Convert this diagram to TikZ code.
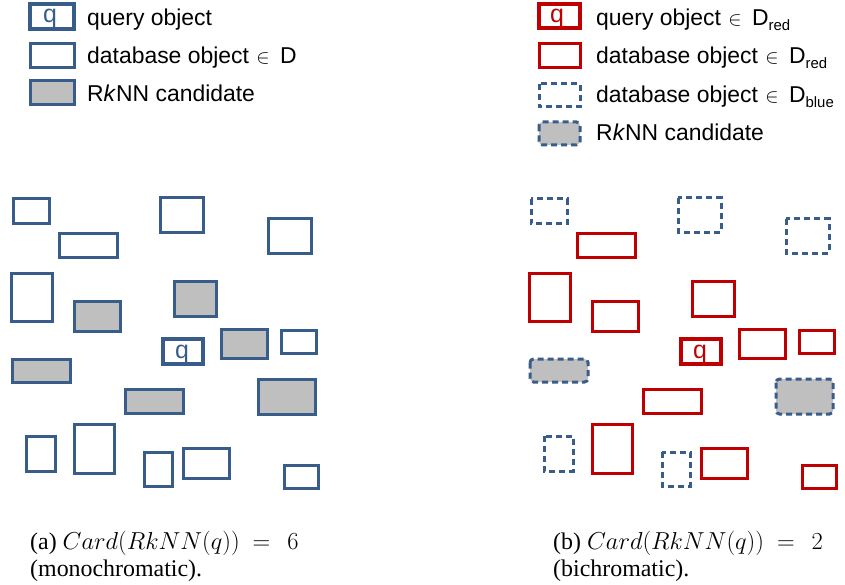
\RequirePackage{fix-cm}
\documentclass[tikz,border=0pt]{standalone}
\usepackage{fontspec}
\setmainfont{Liberation Sans}
\newfontfamily\capfont{Liberation Serif}
\definecolor{myblue}{RGB}{56,93,138}
\definecolor{myred}{RGB}{192,0,0}
\definecolor{mygray}{RGB}{191,191,191}
\tikzset{
  obj/.style={draw=myblue, line width=3bp},
  qobj/.style={draw=myblue, line width=4.5bp},
  cand/.style={obj, fill=mygray},
  robj/.style={draw=myred, line width=3bp},
  rqobj/.style={draw=myred, line width=4.5bp},
  bobj/.style={draw=myblue, line width=3bp, dash pattern=on 6bp off 4bp},
  bcand/.style={bobj, fill=mygray, rounded corners=3.5bp},
  lbl/.style={anchor=base west, inner sep=0pt, font=\fontsize{23}{26}\selectfont},
  qlbl/.style={anchor=base, inner sep=0pt, font=\fontsize{25}{26}\selectfont},
  captxt/.style={anchor=base west, inner sep=0pt, font=\capfont\fontsize{24}{28}\selectfont}
}
\newcommand{\elem}{\hspace{1bp}{\fontsize{20}{20}\selectfont$\in$}\hspace{4bp}}
\newcommand{\subsc}[1]{\raisebox{-5bp}{\fontsize{15}{15}\selectfont #1}}
\newcommand{\capmath}[1]{{\fontsize{24.6}{28}\selectfont$Card(RkNN(q))\ =\ \,#1$}}
\begin{document}
\begin{tikzpicture}[x=1bp,y=-1bp]
\useasboundingbox (0,0) rectangle (845,585);
% ---------- legend left
\draw[qobj] (30,4) rectangle (74,29);
\node[qlbl, text=myblue] (lq) at (50,23) {q};
\node[lbl] (lt1) at (87,26) {query object};
\draw[obj] (30,44) rectangle (74,68);
\node[lbl] (lt2) at (87,64) {database object \elem{} D};
\draw[cand] (30,81) rectangle (74,105);
\node[lbl] (lt3) at (87,102) {R\textit{k}NN candidate};
% ---------- legend right
\draw[rqobj] (539,4) rectangle (580,28);
\node[qlbl, text=myred] (rq) at (557,23) {q};
\node[lbl] (rt1) at (596,26) {query object \elem{} D\subsc{red}};
\draw[robj] (539,44) rectangle (580,68);
\node[lbl] (rt2) at (596,64) {database object \elem{} D\subsc{red}};
\draw[bobj] (539,84) rectangle (580,107);
\node[lbl] (rt3) at (596,103) {database object \elem{} D\subsc{blue}};
\draw[bcand] (539,122) rectangle (580,145);
\node[lbl] (rt4) at (596,141) {R\textit{k}NN candidate};
% ---------- left panel
\draw[obj] (13,199) rectangle (49,224);
\draw[obj] (59,233) rectangle (117,257);
\draw[obj] (160,198) rectangle (203,232);
\draw[obj] (268,219) rectangle (311,253);
\draw[obj] (11,273) rectangle (52,321);
\draw[cand] (74,301) rectangle (120,331);
\draw[cand] (174,281) rectangle (216,316);
\draw[qobj] (163,339) rectangle (203,364);
\node[qlbl, text=myblue] (pq1) at (182,358) {q};
\draw[cand] (221,329) rectangle (267,358);
\draw[obj] (281,330) rectangle (316,353);
\draw[cand] (12,359) rectangle (70,382);
\draw[cand] (125,389) rectangle (183,413);
\draw[cand] (258,379) rectangle (315,414);
\draw[obj] (26,436) rectangle (55,471);
\draw[obj] (74,424) rectangle (114,473);
\draw[obj] (144,452) rectangle (172,486);
\draw[obj] (183,448) rectangle (229,478);
\draw[obj] (284,465) rectangle (318,488);
% ---------- right panel
\begin{scope}[xshift=518bp]
\draw[bobj] (13,199) rectangle (49,224);
\draw[robj] (59,233) rectangle (117,257);
\draw[bobj] (160,198) rectangle (203,232);
\draw[bobj] (268,219) rectangle (311,253);
\draw[robj] (11,273) rectangle (52,321);
\draw[robj] (74,301) rectangle (120,331);
\draw[robj] (174,281) rectangle (216,316);
\draw[rqobj] (163,339) rectangle (203,364);
\node[qlbl, text=myred] (pq2) at (182,358) {q};
\draw[robj] (221,329) rectangle (267,358);
\draw[robj] (281,330) rectangle (316,353);
\draw[bcand] (12,359) rectangle (70,382);
\draw[robj] (125,389) rectangle (183,413);
\draw[bcand] (258,379) rectangle (315,414);
\draw[bobj] (26,436) rectangle (55,471);
\draw[robj] (74,424) rectangle (114,473);
\draw[bobj] (144,452) rectangle (172,486);
\draw[robj] (183,448) rectangle (229,478);
\draw[robj] (284,465) rectangle (318,488);
\end{scope}
% ---------- captions
\node[captxt] (ca1) at (30,549) {(a) \capmath{6}};
\node[captxt] (ca2) at (30,576) {(monochromatic).};
\node[captxt] (cb1) at (553,549) {(b) \capmath{2}};
\node[captxt] (cb2) at (553,576) {(bichromatic).};
\end{tikzpicture}
\end{document}
